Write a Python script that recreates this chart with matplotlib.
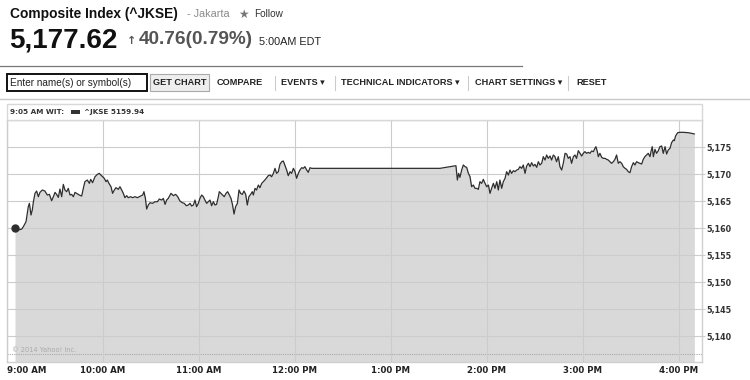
import matplotlib.pyplot as plt
from matplotlib.patches import Rectangle
from matplotlib.lines import Line2D

# minutes after 9:00 AM WIT
minutes = [5.0, 7.1, 9.2, 10.2, 11.9, 13.3, 14.0, 15.0, 15.8, 16.5, 17.5, 18.5, 19.6, 20.6,
           22.1, 23.7, 25.2, 26.5, 27.9, 29.0, 30.0, 31.0, 32.1, 33.1, 34.2, 35.2, 36.2, 37.3,
           38.3, 39.4, 40.4, 41.5, 42.5, 43.5, 45.2, 46.7, 47.7, 48.7, 50.2, 51.5, 52.3, 53.5,
           55.0, 56.5, 57.7, 58.7, 59.8, 60.8, 61.9, 62.7, 63.7, 65.0, 66.0, 67.1, 68.1, 69.6,
           70.6, 71.7, 72.7, 73.7, 74.8, 75.8, 77.3, 78.5, 80.0, 81.5, 82.7, 83.5, 84.8, 85.6,
           86.5, 87.3, 88.3, 89.4, 91.0, 92.5, 94.0, 95.2, 96.7, 97.7, 98.8, 99.8,
           100.8, 102.5, 104.0, 105.4, 106.7, 108.1, 109.6, 110.8, 112.1, 113.3, 114.4, 115.4,
           116.5, 117.5, 118.5, 119.6, 120.6, 121.7, 122.7, 123.7, 124.8, 125.8, 126.9, 127.9,
           129.0, 130.0, 131.0, 132.1, 132.7, 133.7, 134.8, 135.8, 136.9, 137.9, 139.0, 140.0,
           141.0, 141.9, 142.9, 144.0, 145.0, 146.0, 147.1, 148.1, 149.2, 150.2, 151.2, 152.3,
           153.3, 154.0, 155.0, 156.0, 157.1, 158.1, 159.2, 160.2, 161.2, 162.3, 163.3, 164.4,
           165.4, 166.5, 167.5, 168.5, 169.6, 170.6, 171.7, 172.7, 173.8, 174.8, 175.8, 176.9,
           177.9, 179.0, 180.0, 181.0, 182.1, 183.1, 184.2, 185.2, 186.2, 187.3, 188.3, 189.4,
           190.4, 270.6, 280.6, 281.5, 282.3, 283.1, 284.2, 285.2, 286.3, 287.3, 288.4, 289.4,
           290.4, 291.5, 292.5, 293.6, 294.6, 295.6, 296.7, 297.7, 298.8, 299.8, 300.9, 301.9,
           302.9, 304.0, 305.0, 306.1, 307.1, 308.1, 309.2, 310.2, 311.3, 312.3, 313.4, 314.4,
           315.4, 316.5, 317.5, 318.6, 319.6, 320.6, 321.7, 322.7, 323.8, 324.8, 325.9, 326.9,
           327.9, 329.0, 330.0, 331.1, 332.1, 333.1, 334.2, 335.2, 336.3, 337.3, 338.3, 339.4,
           340.4, 341.5, 342.5, 343.5, 344.6, 345.6, 346.7, 347.7, 348.8, 349.8, 350.8,
           351.9, 352.9, 354.0, 355.0, 356.0, 357.1, 358.1, 359.2, 360.2, 361.2, 362.3, 363.3,
           364.4, 365.4, 366.5, 367.5, 368.1, 369.0, 369.6, 370.6, 371.7, 372.7, 373.8, 374.8,
           375.8, 376.9, 377.9, 379.0, 380.0, 381.0, 382.1, 383.1, 384.2, 385.2, 386.3, 387.3,
           388.3, 389.4, 390.4, 391.5, 392.5, 393.5, 394.6, 395.6, 396.7, 397.7, 398.7, 399.8,
           400.8, 401.9, 402.5, 403.3, 404.0, 405.0, 406.0, 407.1, 408.1, 409.2, 410.2, 411.3,
           412.3, 413.3, 414.4, 415.4, 416.5, 417.1, 417.9, 419.2, 420.6, 422.7, 425.8, 427.9,
           429.6]
levels = [5159.94, 5159.63, 5159.81, 5160.24, 5161.17, 5163.95, 5164.57, 5162.41, 5163.33,
          5164.87, 5166.42, 5166.85, 5165.80, 5166.60, 5167.04, 5166.85, 5166.11, 5166.23,
          5165.06, 5165.80, 5166.60, 5166.23, 5165.68, 5167.22, 5165.80, 5168.08, 5167.04,
          5166.73, 5167.34, 5166.11, 5166.23, 5165.80, 5166.60, 5166.42, 5166.11, 5165.92,
          5167.34, 5168.58, 5168.89, 5168.27, 5169.01, 5168.39, 5169.50, 5169.94, 5170.12,
          5169.81, 5169.50, 5169.20, 5168.58, 5168.89, 5168.27, 5167.65, 5166.42, 5167.04,
          5167.47, 5167.16, 5167.65, 5167.04, 5166.42, 5165.62, 5165.99, 5165.62, 5165.80,
          5165.62, 5165.80, 5165.62, 5165.80, 5165.92, 5166.11, 5166.73, 5165.49, 5163.52,
          5164.26, 5164.69, 5164.57, 5164.87, 5164.87, 5165.37, 5165.18, 5165.49, 5164.38,
          5165.18,
          5165.49, 5166.42, 5165.99, 5166.23, 5165.80, 5165.00, 5164.69, 5164.57, 5164.13,
          5164.26, 5164.57, 5164.07, 5164.26, 5165.18, 5163.95, 5164.57, 5165.49, 5166.11,
          5165.80, 5165.18, 5164.57, 5164.87, 5165.18, 5164.13, 5164.87, 5164.26, 5164.38,
          5165.80, 5166.73, 5166.42, 5166.11, 5165.80, 5166.42, 5166.73, 5166.11, 5165.49,
          5164.26, 5162.59, 5163.95, 5164.57, 5167.04, 5166.42, 5166.23, 5166.85, 5166.23,
          5164.26, 5165.80, 5166.23, 5166.73, 5166.11, 5167.34, 5167.04, 5167.96, 5167.47,
          5168.27, 5168.58, 5168.89, 5169.32, 5169.69, 5169.81, 5169.50, 5170.12, 5171.05,
          5170.12, 5170.43, 5171.79, 5172.28, 5172.41, 5171.54, 5170.74, 5169.69, 5170.43,
          5170.12, 5171.05, 5170.43, 5169.20, 5170.12, 5170.74, 5171.17, 5171.05, 5171.36,
          5170.74, 5170.31, 5171.17, 5171.05,
          5171.05, 5171.54, 5168.89, 5170.12, 5169.38, 5170.74, 5171.67, 5171.36, 5171.23,
          5170.12, 5169.51, 5167.65, 5167.96, 5167.35, 5167.35, 5167.16, 5168.58, 5168.27,
          5169.01, 5168.27, 5167.65, 5167.96, 5166.42, 5167.35, 5168.27, 5167.35, 5168.58,
          5167.04, 5168.89, 5167.35, 5168.58, 5169.20, 5170.43, 5169.81, 5170.74, 5170.12,
          5170.62, 5170.43, 5170.74, 5170.86, 5171.36, 5171.05, 5171.67, 5170.12, 5171.48,
          5171.98, 5171.36, 5172.10, 5171.48, 5171.79, 5171.23, 5172.28, 5171.67, 5171.98,
          5173.21, 5172.59, 5173.52, 5172.90, 5173.33, 5172.59, 5173.52, 5173.21, 5172.28,
          5173.21, 5171.36, 5170.74, 5171.98, 5173.83, 5173.70, 5172.90,
          5173.21, 5171.98, 5173.21, 5173.52, 5172.90, 5174.32, 5173.83, 5173.33, 5173.83,
          5174.14, 5173.83, 5174.01, 5173.83, 5174.26, 5174.14, 5174.75, 5175.06, 5174.14,
          5173.21, 5173.83, 5173.09, 5172.90, 5172.90, 5172.72, 5172.59, 5172.28, 5171.98,
          5172.28, 5172.72, 5173.52, 5171.98, 5172.28, 5171.98, 5171.36, 5171.05, 5170.86,
          5170.43, 5170.25, 5171.36, 5172.10, 5171.67, 5172.28, 5172.10, 5171.98, 5171.85,
          5172.72, 5173.21, 5173.52, 5173.83, 5173.21, 5174.14, 5175.06, 5173.21, 5174.57,
          5173.83, 5174.32, 5175.06, 5175.19, 5173.83, 5175.06, 5173.70, 5174.44, 5174.75,
          5175.80, 5176.30, 5176.17, 5177.04, 5177.65, 5177.72, 5177.72, 5177.65, 5177.53,
          5177.41]

hour_ticks = [0, 60, 120, 180, 240, 300, 360, 420]
hour_labels = ['9:00 AM', '10:00 AM', '11:00 AM', '12:00 PM', '1:00 PM', '2:00 PM', '3:00 PM', '4:00 PM']
level_ticks = [5140, 5145, 5150, 5155, 5160, 5165, 5170, 5175]
level_labels = ['5,140', '5,145', '5,150', '5,155', '5,160', '5,165', '5,170', '5,175']

W, H = 750, 380
SANS = ['Liberation Sans', 'DejaVu Sans']


def fx(x):
    return x / W


def fy(y):
    return 1 - y / H


fig = plt.figure(figsize=(W / 100, H / 100), dpi=100)
fig.patch.set_facecolor('white')

# page header
fig.text(fx(10), fy(14), 'Composite Index (^JKSE)', family=SANS, weight='bold', size=9.9,
         va='center', color='#111')
fig.text(fx(187), fy(14), '- Jakarta', family=SANS, size=7.8, va='center', color='#8a8a8a')
fig.text(fx(238), fy(14), '\u2605', family=['DejaVu Sans'], size=8.5, va='center', color='#777')
fig.text(fx(254), fy(14), 'Follow', family=SANS, size=7.2, va='center', color='#333')
fig.text(fx(9), fy(40), '5,177.62', family=SANS, weight='bold', size=20, va='center', color='#111')
fig.text(fx(127), fy(41), '\u2191', family=['DejaVu Sans'], weight='bold', size=8, va='center', color='#555')
fig.text(fx(139), fy(40), '40.76(0.79%)', family=SANS, weight='bold', size=13.7, va='center', color='#555')
fig.text(fx(259), fy(42), '5:00AM EDT', family=SANS, size=7.8, va='center', color='#222')

# toolbar
fig.add_artist(Line2D([0, fx(522)], [fy(66), fy(66)], color='#777', lw=0.9))
fig.add_artist(Line2D([0, 1], [fy(99), fy(99)], color='#c8c8c8', lw=1))
fig.add_artist(Rectangle((fx(7), fy(91)), fx(140), 17 / H, facecolor='white',
                         edgecolor='#111', lw=1.4))
fig.text(fx(10), fy(82.5), 'Enter name(s) or symbol(s)', family=SANS, size=7.2, va='center', color='#222')
fig.add_artist(Rectangle((fx(150), fy(91)), fx(59), 17 / H, facecolor='#eeeeee',
                         edgecolor='#aaaaaa', lw=0.8))
fig.text(fx(179.5), fy(82.5), 'GET CHART', family=SANS, weight='bold', size=6.6,
         ha='center', va='center', color='#222')
toolbar = [(217, 'COMPARE'), (281, 'EVENTS \u25be'), (341, 'TECHNICAL INDICATORS \u25be'),
           (475, 'CHART SETTINGS \u25be'), (576, 'RESET')]
for x, label in toolbar:
    fig.text(fx(x), fy(82.5), label, family=SANS, weight='bold', size=6.55,
             va='center', color='#222')
for x in [275, 335, 468, 568]:
    fig.add_artist(Line2D([fx(x), fx(x)], [fy(76), fy(90)], color='#cccccc', lw=0.8))

# strip above the plot
fig.add_artist(Rectangle((fx(7), fy(120)), fx(695), 16 / H, facecolor='white',
                         edgecolor='#d8d8d8', lw=1))
fig.text(fx(10), fy(112), '9:05 AM WIT:', family=['DejaVu Sans'], weight='bold', size=5.2,
         va='center', color='#333')
fig.add_artist(Rectangle((fx(71), fy(114)), fx(9), 4 / H, facecolor='#333', edgecolor='none'))
fig.text(fx(84), fy(112), '^JKSE 5159.94', family=['DejaVu Sans'], weight='bold', size=5.2,
         va='center', color='#333')

# chart
ax = fig.add_axes([fx(7), fy(362), fx(695), 242 / H])
ax.set_facecolor('white')
ax.fill_between(minutes, levels, 5130, color='#d9d9d9', lw=0, zorder=1)
ax.plot(minutes, levels, color='#2e2e2e', lw=0.9, zorder=3)
ax.plot(minutes[0], levels[0], 'o', color='#2e2e2e', ms=5, zorder=4)

ax.set_xlim(0, 434.4)
ax.set_ylim(5135.2, 5180)
ax.set_xticks(hour_ticks)
ax.set_xticklabels(hour_labels, family=['DejaVu Sans'], weight='bold', size=6.2, color='#222')
ax.get_xticklabels()[0].set_horizontalalignment('left')
ax.set_yticks(level_ticks)
ax.set_yticklabels(level_labels, family=['DejaVu Sans'], weight='bold', size=5.8, color='#333')
ax.yaxis.tick_right()
ax.tick_params(axis='x', length=0, pad=3)
ax.tick_params(axis='y', length=2, width=0.8, color='#cccccc', pad=1)
ax.grid(True, color='#cccccc', lw=0.8, zorder=2)
ax.set_axisbelow(False)
for s in ax.spines.values():
    s.set_color('#d0d0d0')
    s.set_linewidth(1)

ax.axhline(5136.6, color='#aaaaaa', lw=0.8, ls=(0, (1, 1)), zorder=2)
ax.text(3, 5136.8, '\u00a9 2014 Yahoo! Inc.', family=['DejaVu Sans'], size=4.8,
        color='#aaaaaa', va='bottom', zorder=5)

fig.savefig('out.png', dpi=100)
